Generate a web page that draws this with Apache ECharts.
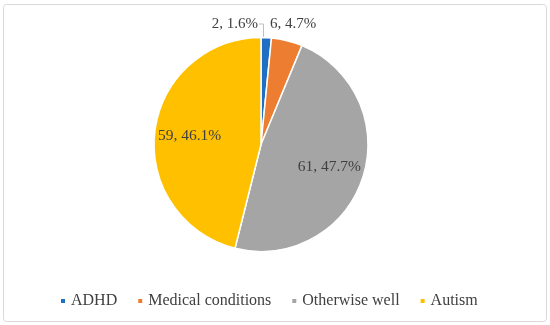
<!DOCTYPE html>
<html><head><meta charset="utf-8">
<script src="https://cdn.jsdelivr.net/npm/echarts@6/dist/echarts.min.js"></script>
<style>html,body{margin:0;padding:0;background:#fff}#c{width:550px;height:325px}</style>
</head><body><div id="c"></div>
<script>
const categories = ["ADHD", "Medical conditions", "Otherwise well", "Autism"];
const counts = [2, 6, 61, 59];
const percents = ["1.6%", "4.7%", "47.7%", "46.1%"];
const colors = ["#1F6FC5", "#ED7D31", "#A5A5A5", "#FFC000"];

const chart = echarts.init(document.getElementById('c'));
const font = "Liberation Serif";
const baseData = categories.map((n, i) => ({ name: n, value: counts[i], itemStyle: { color: colors[i] } }));

chart.setOption({
  animation: false,
  textStyle: { fontFamily: font },
  graphic: [{ type: 'rect', shape: { x: 3.5, y: 4.5, width: 543, height: 317, r: 3 }, style: { fill: 'none', stroke: '#d9d9d9', lineWidth: 1 }, silent: true }],
  legend: {
    bottom: 11, left: 54, itemWidth: 6, itemHeight: 6, itemGap: 19, icon: 'rect',
    textStyle: { fontFamily: font, fontSize: 16, color: '#404040' },
    data: categories
  },
  series: [
    {
      type: 'pie', center: [261, 144.5], radius: 107, startAngle: 90, clockwise: true,
      itemStyle: { borderColor: '#fff', borderWidth: 1.5 },
      label: { show: false }, labelLine: { show: false },
      data: baseData.map((d, i) => {
        if (i === 0) return Object.assign({}, d, {
          label: { show: true, position: 'outside', formatter: counts[i] + ', ' + percents[i], fontFamily: font, fontSize: 15, color: '#404040' },
          labelLine: { show: true, lineStyle: { color: '#bfbfbf', width: 1 } }
        });
        if (i === 1) return Object.assign({}, d, {
          label: { show: true, position: 'outside', formatter: counts[i] + ', ' + percents[i], fontFamily: font, fontSize: 15, color: '#404040' },
          labelLine: { show: false }
        });
        return d;
      }),
      labelLayout: function (p) {
        if (p.dataIndex === 0) {
          return { x: 258, y: 24, align: 'right', verticalAlign: 'middle', labelLinePoints: [[263.5, 37], [263.5, 24], [259, 24]] };
        }
        if (p.dataIndex === 1) {
          return { x: 270, y: 24, align: 'left', verticalAlign: 'middle' };
        }
      }
    },
    {
      type: 'pie', center: [261, 144.5], radius: 138, startAngle: 90, clockwise: true, silent: true,
      itemStyle: { color: 'rgba(0,0,0,0)' },
      labelLine: { show: false },
      label: { show: false },
      data: baseData.map((d, i) => ({
        name: d.name, value: d.value, itemStyle: { color: 'rgba(0,0,0,0)' },
        label: { show: i >= 2, position: 'inside', formatter: counts[i] + ', ' + percents[i], fontFamily: font, fontSize: 15.5, color: '#404040' }
      }))
    }
  ]
});
</script></body></html>
